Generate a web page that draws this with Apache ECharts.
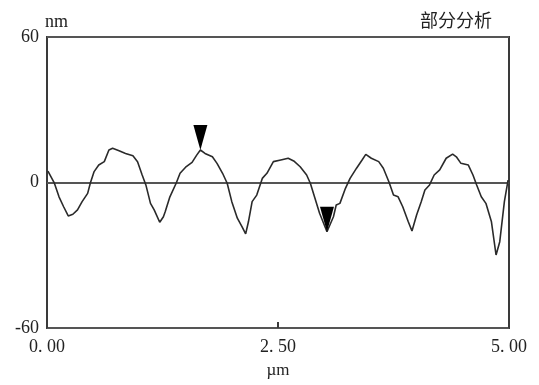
<!DOCTYPE html>
<html>
<head>
<meta charset="utf-8">
<script src="https://cdn.jsdelivr.net/npm/echarts@6/dist/echarts.min.js"></script>
<style>html,body{margin:0;padding:0;background:#fff;}#c{width:539px;height:385px;}</style>
</head>
<body>
<div id="c"></div>
<script>
// Profile: x position (µm), height (nm)
var profileX = [0.01,0.08,0.13,0.18,0.23,0.28,0.33,0.38,0.44,0.47,0.51,0.56,0.62,0.67,0.71,0.78,0.85,0.93,0.98,1.03,1.07,1.12,1.16,1.22,1.26,1.28,1.33,1.40,1.44,1.50,1.57,1.62,1.66,1.71,1.79,1.84,1.90,1.95,2.00,2.06,2.11,2.15,2.18,2.22,2.27,2.33,2.38,2.45,2.53,2.61,2.67,2.74,2.81,2.85,2.90,2.95,3.03,3.10,3.13,3.17,3.23,3.28,3.35,3.41,3.45,3.51,3.59,3.64,3.70,3.75,3.80,3.85,3.91,3.95,4.00,4.05,4.09,4.14,4.19,4.25,4.32,4.39,4.43,4.48,4.56,4.61,4.65,4.70,4.75,4.81,4.86,4.90,4.95,4.99];
var profileY = [4.7,-0.3,-5.9,-10.0,-13.8,-13.1,-11.3,-7.9,-4.5,-0.1,4.5,7.2,8.6,13.4,14.1,13.1,12.0,11.0,8.6,3.1,-1.0,-8.6,-11.3,-16.4,-14.1,-12.0,-5.9,-0.1,3.8,6.3,8.3,11.3,13.4,12.0,10.6,7.9,3.8,-0.3,-7.9,-14.7,-18.2,-21.2,-16.2,-7.9,-5.2,1.7,3.8,8.6,9.3,10.0,8.9,6.5,3.1,-0.3,-6.5,-12.7,-20.3,-14.1,-9.3,-8.6,-2.4,1.7,5.9,9.3,11.6,10.0,8.6,5.9,0.3,-5.2,-5.9,-10.0,-16.2,-20.0,-13.4,-7.9,-3.1,-1.0,3.1,5.2,10.0,11.7,10.6,7.9,7.2,3.1,-1.0,-5.9,-8.6,-16.2,-29.9,-24.4,-7.9,1.0];
// Cursor markers (downward triangles)
var markerX = [1.66, 3.03];
var markerY = [13.4, -20.3];
// Tick labels
var xTickValues = [0, 2.5, 5];
var xTickLabels = ['0. 00', '2. 50', '5. 00'];
var yTickValues = [-60, 0, 60];
var yTickLabels = ['-60', '0', '60'];
var xName = 'µm', yName = 'nm', titleText = '部分分析';

var lineData = profileX.map(function(x, i){ return [x, profileY[i]]; });
var markData = markerX.map(function(x, i){ return [x, markerY[i]]; });

var serif = '"Liberation Serif", "DejaVu Serif", serif';
var chart = echarts.init(document.getElementById('c'));
chart.setOption({
  animation: false,
  backgroundColor: '#fff',
  title: {
    text: titleText, right: 42, top: 6,
    textStyle: {fontFamily: '"Noto Sans CJK SC", sans-serif', fontSize: 18, fontWeight: 'normal', color: '#222'}
  },
  grid: {left: 47, right: 30, top: 37, bottom: 57, show: true, borderColor: '#3a3a3a', borderWidth: 2, backgroundColor: 'transparent'},
  xAxis: {
    type: 'value', min: 0, max: 5, interval: 2.5,
    name: xName, nameLocation: 'middle', nameGap: 34,
    nameTextStyle: {fontFamily: serif, fontSize: 17, color: '#222'},
    axisLine: {show: false, onZero: false},
    axisTick: {show: true, inside: true, length: 6, lineStyle: {color: '#3a3a3a', width: 2}},
    splitLine: {show: false},
    axisLabel: {
      fontFamily: serif, fontSize: 18, color: '#222', margin: 10,
      formatter: function(v){ var i = xTickValues.indexOf(v); return i >= 0 ? xTickLabels[i] : ''; }
    }
  },
  yAxis: {
    type: 'value', min: -60, max: 60, interval: 60,
    name: yName, nameLocation: 'end', nameGap: 6,
    nameTextStyle: {fontFamily: serif, fontSize: 18, color: '#222', align: 'left', padding: [0, 0, 0, -2]},
    axisLine: {show: false},
    axisTick: {show: false},
    splitLine: {show: true, lineStyle: {color: '#555', width: 2}},
    axisLabel: {
      fontFamily: serif, fontSize: 18, color: '#222', margin: 8,
      formatter: function(v){ var i = yTickValues.indexOf(v); return i >= 0 ? yTickLabels[i] : ''; }
    }
  },
  series: [
    {
      type: 'line', data: lineData, showSymbol: false, smooth: false,
      lineStyle: {color: '#2a2a2a', width: 1.6}
    },
    {
      type: 'scatter', data: markData,
      symbol: 'path://M0,0L10,0L5,10Z', symbolKeepAspect: false,
      symbolSize: [14, 25], symbolOffset: [0, '-50%'],
      itemStyle: {color: '#000', opacity: 1}, z: 5
    }
  ]
});
</script>
</body>
</html>
